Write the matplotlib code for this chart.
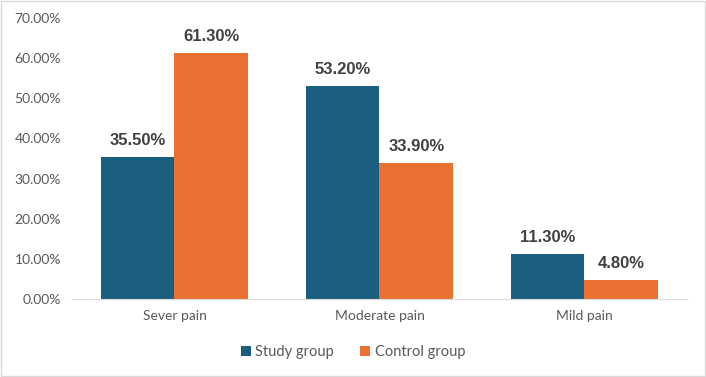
import numpy as np
import matplotlib.pyplot as plt
from matplotlib.patches import Rectangle

categories = ["Sever pain", "Moderate pain", "Mild pain"]
study = [35.5, 53.2, 11.3]
control = [61.3, 33.9, 4.8]
yticks = [0, 10, 20, 30, 40, 50, 60, 70]

plt.rcParams['font.family'] = ['Lato', 'DejaVu Sans']

fig = plt.figure(figsize=(7.06, 3.77), dpi=100)
ax = fig.add_axes([0.102, 0.207, 0.871, 0.745])

x = np.arange(len(categories))
w = 0.36
b1 = ax.bar(x - w/2, study, w, color="#1B5F80", label="Study group")
b2 = ax.bar(x + w/2, control, w, color="#E97132", label="Control group")

for bars, vals in ((b1, study), (b2, control)):
    for r, v in zip(bars, vals):
        ax.text(r.get_x() + r.get_width()/2, v + 2.2, "%.2f%%" % v,
                ha="center", va="bottom", fontsize=12, fontweight="bold",
                color="#404040", family=["Liberation Sans", "DejaVu Sans"])

ax.set_xlim(-0.5, 2.5)
ax.set_ylim(0, 70)
ax.set_yticks(yticks)
ax.set_yticklabels(["%.2f%%" % t for t in yticks])
ax.set_xticks(x)
ax.set_xticklabels(categories)
ax.tick_params(axis="both", length=0, labelsize=10, colors="#595959", pad=8)
for s in ["top", "right", "left"]:
    ax.spines[s].set_visible(False)
ax.spines["bottom"].set_color("#D9D9D9")

fig.legend(handles=[b1, b2], loc="center", bbox_to_anchor=(0.5, 0.066), ncol=2,
           frameon=False, fontsize=10.5, handlelength=0.7, handleheight=0.7,
           handletextpad=0.3, columnspacing=1.8, labelcolor="#595959")

fig.patches.append(Rectangle((0.001, 0.002), 0.997, 0.995, transform=fig.transFigure,
                             fill=False, edgecolor="#D9D9D9", linewidth=1))

fig.savefig("out.png", dpi=100)
